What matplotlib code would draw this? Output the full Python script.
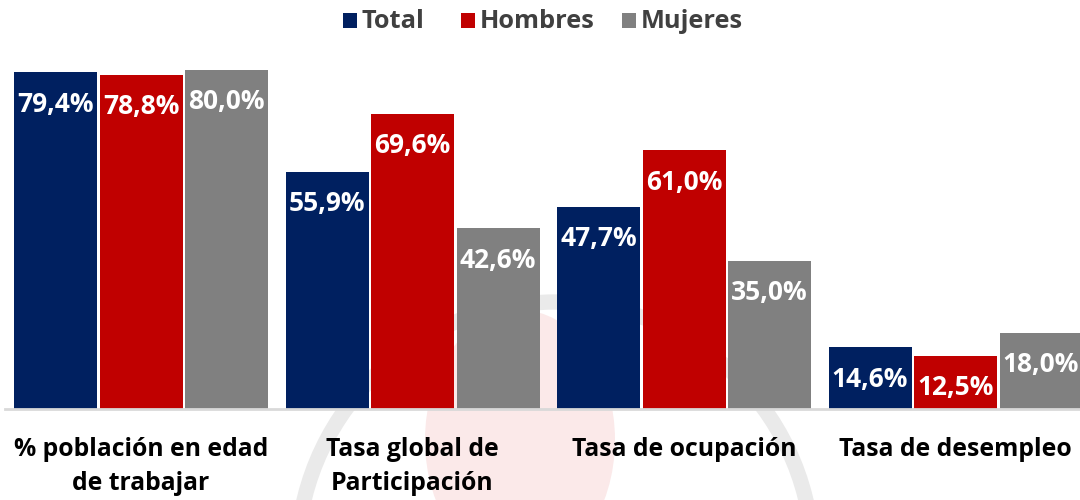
import matplotlib
matplotlib.use("Agg")
import matplotlib.pyplot as plt
import numpy as np
from matplotlib.patches import Circle, Ellipse, Rectangle
from matplotlib.transforms import IdentityTransform

# Data
categories = ['% población en edad\nde trabajar', 'Tasa global de\nParticipación',
              'Tasa de ocupación', 'Tasa de desempleo']
series_names = ['Total', 'Hombres', 'Mujeres']
total = [79.4, 55.9, 47.7, 14.6]
hombres = [78.8, 69.6, 61.0, 12.5]
mujeres = [80.0, 42.6, 35.0, 18.0]
colors = ['#002060', '#C00000', '#808080']

plt.rcParams['font.family'] = ['Open Sans', 'DejaVu Sans']

fig = plt.figure(figsize=(10.8, 5), dpi=100)

# faint logo watermark behind the chart (display pixel coords)
fig.add_artist(Ellipse((520, 60), 190, 260, transform=IdentityTransform(),
                       facecolor='#FBE9E9', edgecolor='none', zorder=0))
fig.add_artist(Circle((555, -60), 258, transform=IdentityTransform(),
                      facecolor='none', edgecolor='#EAEAEA', lw=11, zorder=0))

ax = fig.add_axes([5 / 1080, 91 / 500, 1075 / 1080, 409 / 500])
ax.patch.set_alpha(0)

x = np.arange(len(categories))
step = 85.5 / 271.5
width = 83 / 271.5
for i, (vals, col) in enumerate(zip([total, hombres, mujeres], colors)):
    pos = x + (i - 1) * step
    bars = ax.bar(pos, vals, width=width, color=col, zorder=2)
    for b, v in zip(bars, vals):
        ax.annotate(f'{v:.1f}%'.replace('.', ','), (b.get_x() + b.get_width() / 2, v),
                    xytext=(0, -23), textcoords='offset points', ha='center', va='center',
                    color='white', fontsize=19, fontweight='bold', zorder=3)

ax.set_xlim(-136 / 271.5, (1080 - 141) / 271.5)
ax.set_ylim(0, 409 / 4.24)
ax.set_yticks([])
ax.set_xticks(x)
ax.set_xticklabels(categories, fontsize=17.8, fontweight='bold', color='black', linespacing=1.5)
ax.tick_params(axis='x', length=0, pad=20)
for s in ['top', 'right', 'left']:
    ax.spines[s].set_visible(False)
ax.spines['bottom'].set_color('#D9D9D9')
ax.spines['bottom'].set_linewidth(2)

# legend drawn as squares + text in figure pixel positions
leg_items = [(343, 'Total'), (461, 'Hombres'), (622, 'Mujeres')]
for (px, name), col in zip(leg_items, colors):
    fig.add_artist(Rectangle((px, 500 - 28), 14, 15, transform=IdentityTransform(),
                             facecolor=col, edgecolor='none'))
    fig.text((px + 19) / 1080, 1 - 22 / 500, name, ha='left', va='center',
             fontsize=18.3, fontweight='bold', color='#404040')

fig.savefig('out.png', dpi=100)
